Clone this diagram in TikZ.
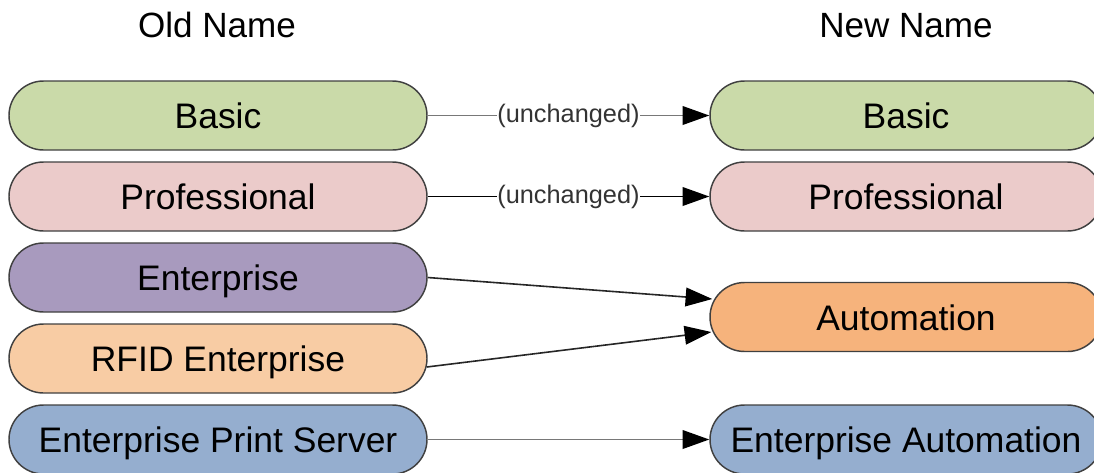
\documentclass[tikz,border=0pt]{standalone}
\usepackage{fontspec}
\setmainfont{Liberation Sans}
\usetikzlibrary{arrows.meta,calc}
\definecolor{cgreen}{HTML}{CADAA9}
\definecolor{cpink}{HTML}{EBCBCA}
\definecolor{cpurple}{HTML}{A89ABE}
\definecolor{cpeach}{HTML}{F8CCA4}
\definecolor{cblue}{HTML}{95AECF}
\definecolor{corange}{HTML}{F6B37C}
\definecolor{cborder}{HTML}{404040}
\definecolor{cgrayline}{HTML}{787878}
\begin{document}
\begin{tikzpicture}[x=0.75pt,y=-0.75pt,
  pill/.style={draw=cborder, line width=1.1pt, rounded corners=25.9pt,
    minimum height=51.75pt, inner sep=0pt, text height=19.6pt, text depth=0pt,
    font=\fontsize{26.6}{30}\selectfont, text=black},
  leftpill/.style={pill, minimum width=313.5pt},
  rightpill/.style={pill, minimum width=294pt},
  head/.style={inner sep=0pt, text height=19pt, text depth=0pt,
    font=\fontsize{26.3}{30}\selectfont, text=black},
  lbl/.style={fill=white, inner sep=0.6pt, font=\fontsize{19}{22}\selectfont, text=black!80},
  link/.style={line width=1.2pt, -{Triangle[length=20pt,width=14pt,black]}}
]
\clip (0,0) rectangle (1094,472);
\useasboundingbox (0,0) rectangle (1094,472);

\node[head] (hold) at (217,25) {Old Name};
\node[head] (hnew) at (906,25) {New Name};

\node[leftpill, fill=cgreen] (lbasic) at (218,115.5) {Basic};
\node[leftpill, fill=cpink] (lprof) at (218,196.5) {Professional};
\node[leftpill, fill=cpurple] (lent) at (218,277.5) {Enterprise};
\node[leftpill, fill=cpeach] (lrfid) at (218,358.5) {RFID Enterprise};
\node[leftpill, fill=cblue] (leps) at (218,439.5) {Enterprise Print Server};

\node[rightpill, fill=cgreen] (rbasic) at (906,115.5) {Basic};
\node[rightpill, fill=cpink] (rprof) at (906,196.5) {Professional};
\node[rightpill, fill=corange] (raut) at (906,317) {Automation};
\node[rightpill, fill=cblue] (rea) at (906,439.5) {Enterprise Automation};

\draw[link, draw=cgrayline] (lbasic.east) -- node[lbl] {(unchanged)} (rbasic.west);
\draw[link, draw=black] (lprof.east) -- node[lbl] {(unchanged)} (rprof.west);
\draw[link, draw=black!85] (lent.east) -- ($(raut.west)+(3,-18)$);
\draw[link, draw=black!85] ($(lrfid.east)+(-1,8.5)$) -- ($(raut.west)+(2,15)$);
\draw[link, draw=cgrayline] (leps.east) -- (rea.west);
\end{tikzpicture}
\end{document}
